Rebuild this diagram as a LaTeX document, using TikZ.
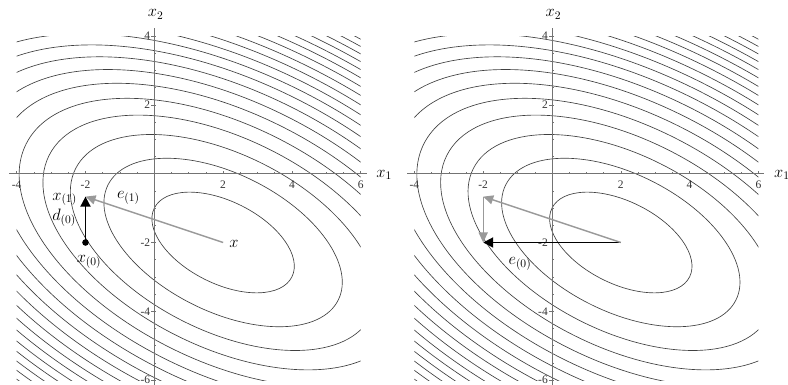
\RequirePackage{fix-cm}
\documentclass[tikz,border=0pt]{standalone}
\usepackage{fontspec}
\newfontfamily\tickfont{Liberation Serif}
\usetikzlibrary{arrows.meta}
\tikzset{
  contour/.style={draw=black!75, line width=0.65pt},
  axisline/.style={draw=black!55, line width=0.8pt},
  tickmark/.style={draw=black!55, line width=0.6pt},
  ticklabel/.style={font=\tickfont\fontsize{11.5}{13}\selectfont, inner sep=0pt, text=black!80},
  mathlabel/.style={font=\fontsize{16.5}{20}\selectfont, inner sep=0pt, anchor=base west},
  blackarrow/.style={draw=black, line width=1.8pt, -{Triangle[length=10pt,width=10pt]}},
  grayarrow/.style={draw=black!40, line width=1.4pt, -{Triangle[length=10pt,width=9pt]}},
  dotnode/.style={circle, fill=black, inner sep=0pt, minimum size=6.6pt},
}
\newcommand{\drawpanel}[1]{%
  \begin{scope}
    \clip (-4,-6) rectangle (6,4);
    \foreach \k in {0,...,19}{%
      \pgfmathsetmacro\lev{5+9*\k}%
      \draw[contour, rotate around={-26.565:(2,-2)}] (2,-2) ellipse [x radius={sqrt(\lev)}, y radius={sqrt(2*\lev/7)}];
    }
  \end{scope}
  \draw[axisline] (-4.21,0) -- (6.17,0);
  \draw[axisline] (0,-6.3) -- (0,4.24);
  \foreach \t in {-4,-3.5,...,6}{\draw[tickmark] (\t,0) -- ++(0,1.6pt);}
  \foreach \t in {-6,-5.5,...,4}{\draw[tickmark] (0,\t) -- ++(1.6pt,0);}
  \foreach \t in {-4,-2,2,4,6}{%
    \draw[tickmark] (\t,0) -- ++(0,3pt);
    \node[ticklabel] (#1xt\t) at ([yshift=-11pt]\t,0) {\t};
  }
  \foreach \t in {-6,-4,-2,2,4}{%
    \draw[tickmark] (0,\t) -- ++(-3pt,0);
    \node[ticklabel, anchor=east] (#1yt\t) at ([xshift=-4pt]0,\t) {\t};
  }
  \node[mathlabel] (#1xa) at (6.45,-0.1) {$x_1$};
  \node[mathlabel] (#1ya) at (-0.19,4.56) {$x_2$};
}
\begin{document}
\begin{tikzpicture}[x=1pt,y=1pt]
\useasboundingbox (0,0) rectangle (788,385);
\clip (0,0) rectangle (788,385);
\fill[white] (0,0) rectangle (788,385);
% left panel
\begin{scope}[shift={(154.3pt,211.3pt)}, x=34.4pt, y=34.4pt]
  \drawpanel{L}
  \coordinate (Lx0) at (-2,-2);
  \coordinate (Lx1) at (-2,-0.6667);
  \coordinate (Lxs) at (2,-2);
  \draw[grayarrow] (Lxs) -- (Lx1);
  \draw[blackarrow] (Lx0) -- (Lx1);
  \node[dotnode] (Ldot) at (Lx0) {};
  \node[mathlabel] (Llx1) at (-2.97,-0.765) {$x_{(1)}$};
  \node[mathlabel] (Lld0) at (-2.97,-1.35) {$d_{(0)}$};
  \node[mathlabel] (Llx0) at (-2.26,-2.59) {$x_{(0)}$};
  \node[mathlabel] (Lle1) at (-1.09,-0.715) {$e_{(1)}$};
  \node[mathlabel] (Llx) at (2.18,-2.14) {$x$};
\end{scope}
% right panel
\begin{scope}[shift={(552pt,211.3pt)}, x=34.4pt, y=34.4pt]
  \drawpanel{R}
  \coordinate (Rx0) at (-2,-2);
  \coordinate (Rx1) at (-2,-0.6667);
  \coordinate (Rxs) at (2,-2);
  \draw[blackarrow] (Rxs) -- (Rx0);
  \draw[grayarrow] (Rxs) -- (Rx1);
  \draw[grayarrow] (Rx1) -- (Rx0);
  \node[mathlabel] (Rle0) at (-1.27,-2.63) {$e_{(0)}$};
\end{scope}
\end{tikzpicture}
\end{document}
